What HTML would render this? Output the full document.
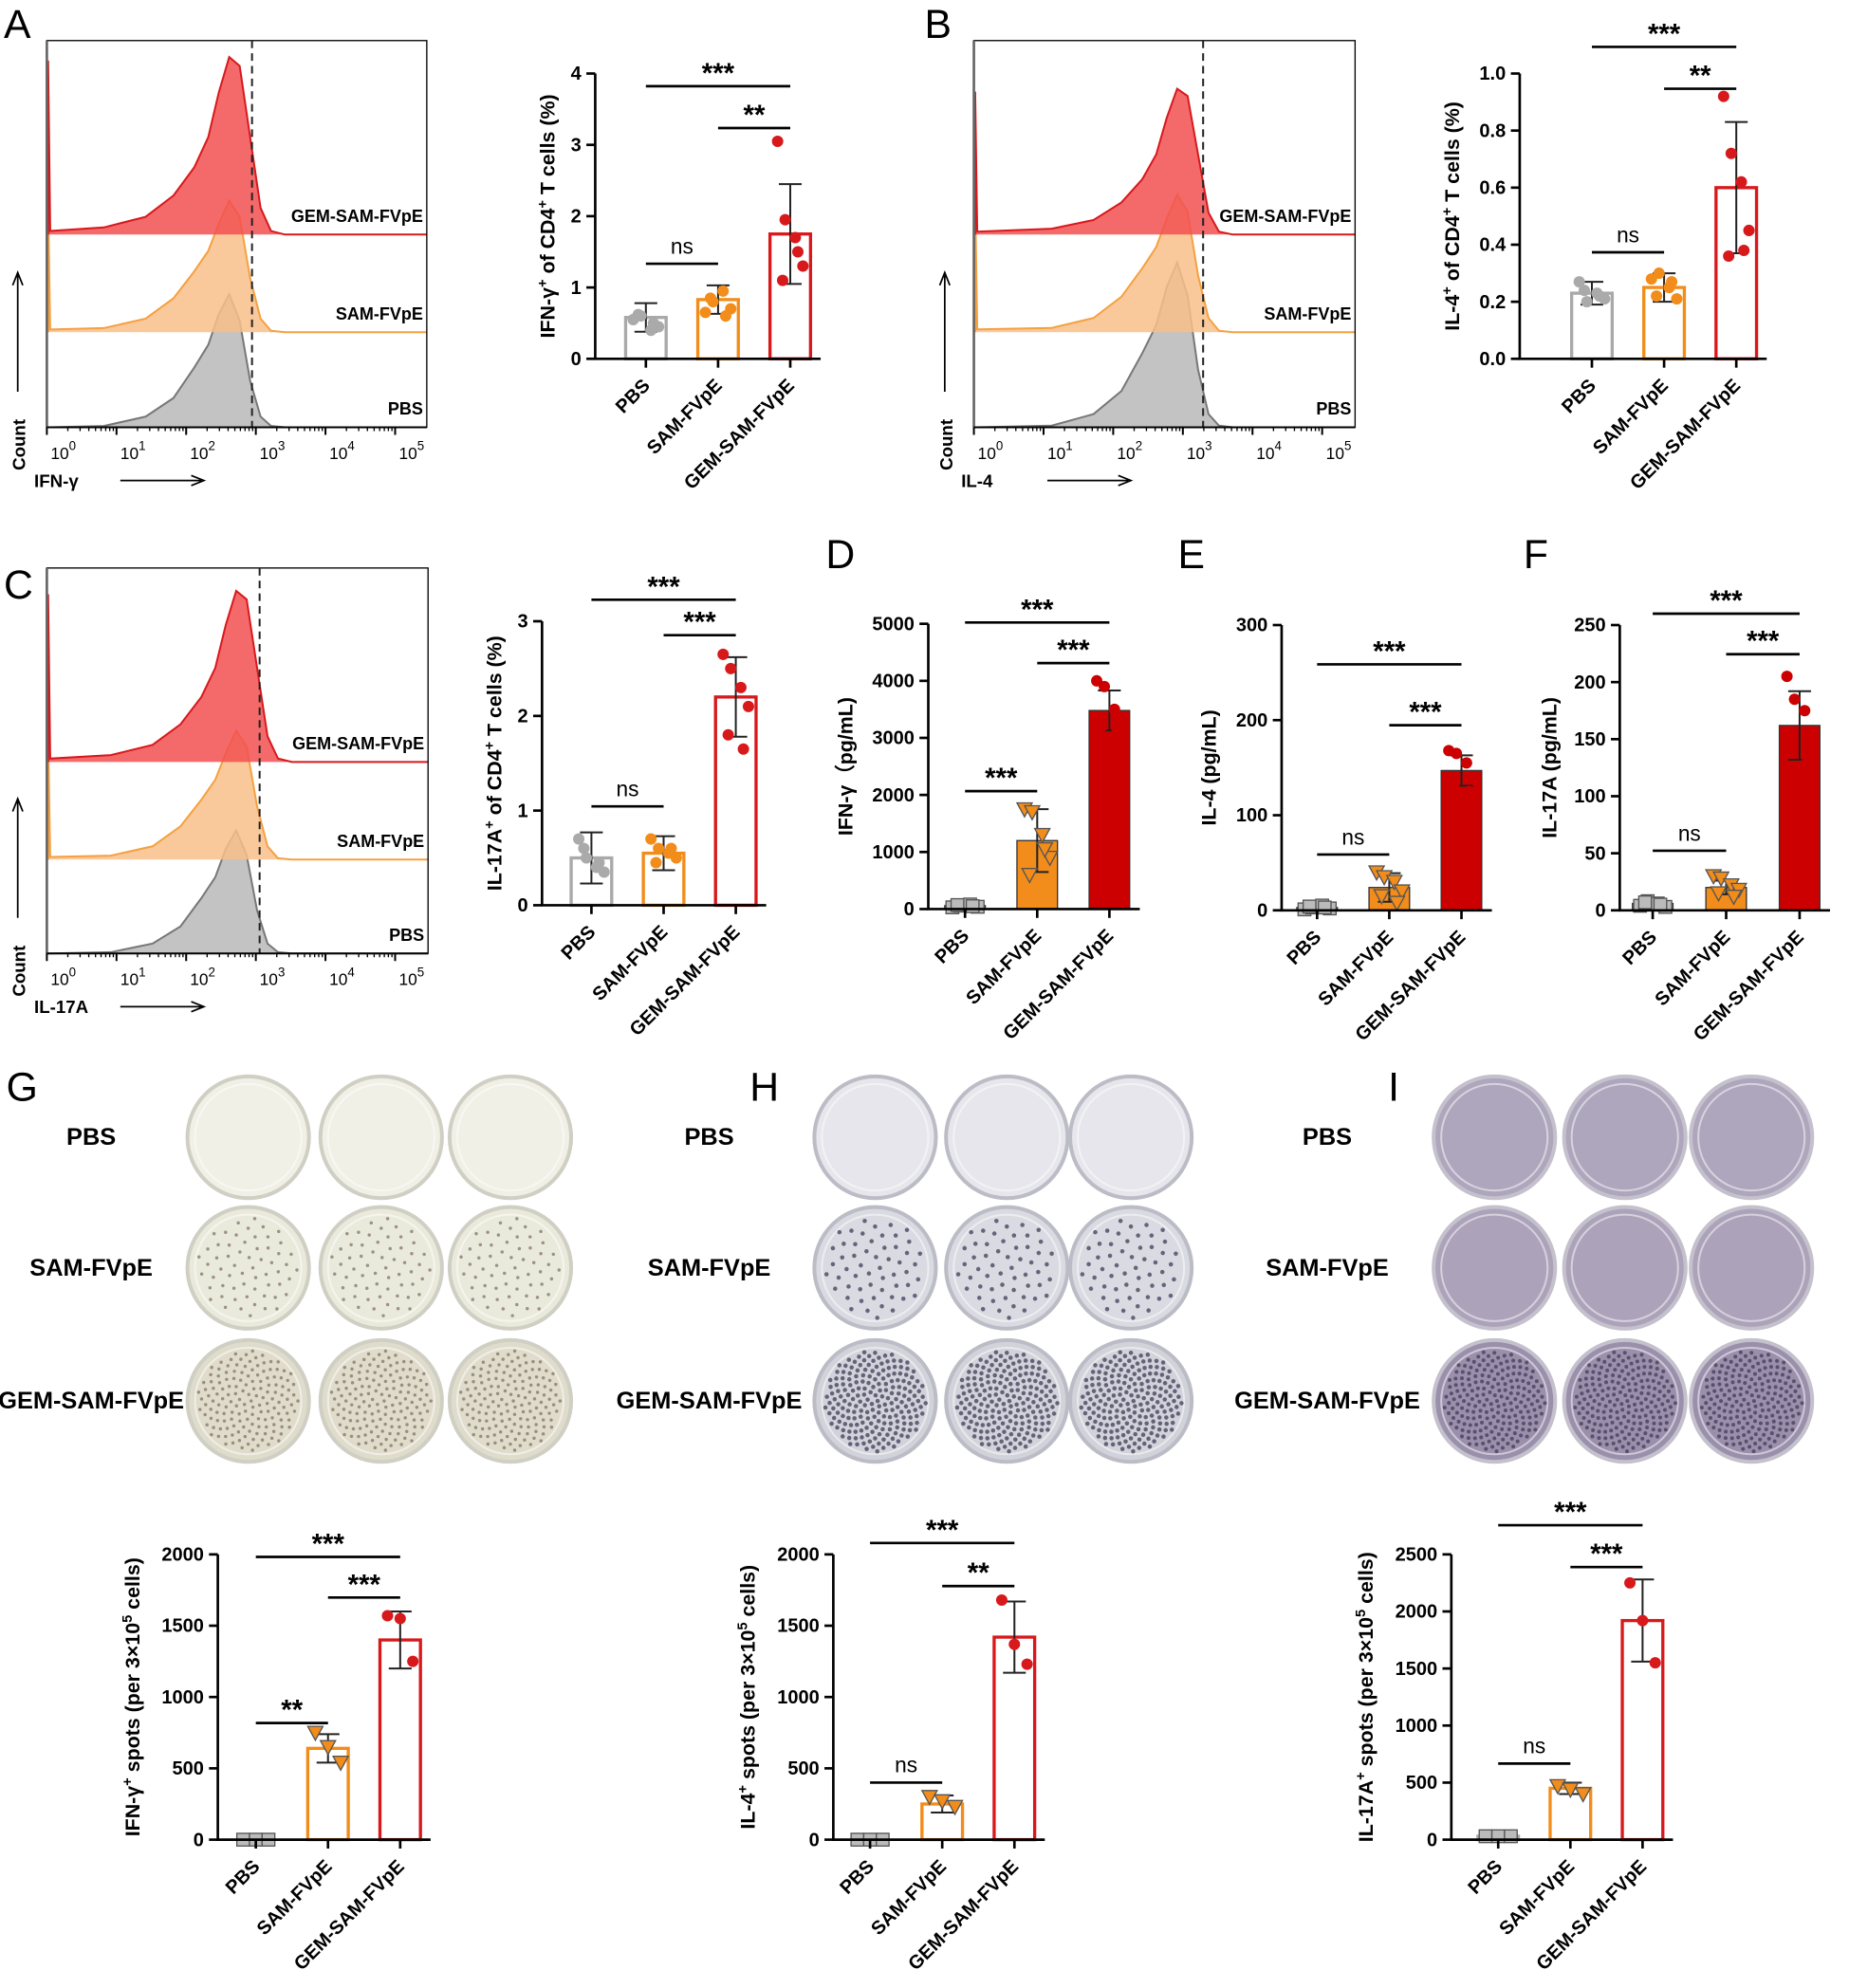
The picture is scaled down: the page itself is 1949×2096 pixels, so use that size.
<!DOCTYPE html>
<html><head><meta charset="utf-8"><style>
html,body{margin:0;padding:0;background:#fff}
svg{display:block}
text{font-family:"Liberation Sans",Arial,sans-serif;fill:#000}
</style></head><body>
<svg id="fig" xmlns="http://www.w3.org/2000/svg" width="1949" height="2096" viewBox="0 0 1460 1568" preserveAspectRatio="none"></svg>
<script>
// ---------- DATA ----------
const groups = ["PBS","SAM-FVpE","GEM-SAM-FVpE"];
const aMeans=[0.58,0.83,1.75], aSd=[0.2,0.2,0.7];
const aPts=[[0.55,0.6,0.4,0.45,0.62,0.5],[0.65,0.8,0.95,0.7,0.85,0.6],[3.05,1.95,1.7,1.3,1.1,1.5]];
const bMeans=[0.23,0.25,0.6], bSd=[0.04,0.05,0.23];
const bPts=[[0.27,0.2,0.23,0.21,0.24,0.22],[0.28,0.3,0.25,0.21,0.22,0.27],[0.92,0.72,0.62,0.45,0.36,0.38]];
const cMeans=[0.5,0.55,2.2], cSd=[0.27,0.18,0.42];
const cPts=[[0.7,0.5,0.4,0.35,0.6,0.45],[0.7,0.6,0.55,0.5,0.45,0.6],[2.65,2.5,2.3,2.1,1.8,1.65]];
const dMeans=[60,1200,3480], dSd=[40,550,350];
const dPts=[[30,60,80,40,70,50],[1750,1700,1300,900,600,1050],[4000,3900,3500,3300,3200,3100]];
const eMeans=[3,24,147], eSd=[2,15,16];
const ePts=[[1,3,5,2,4,3],[40,35,30,20,15,8],[168,165,155,140,130,125]];
const fMeans=[6,20,162], fSd=[4,6,30];
const fPts=[[4,8,6,3,7,5],[30,28,22,18,15,12],[205,185,175,155,140,130]];
const gMeans=[0,640,1400], gSd=[0,100,200];
const gPts=[[0,0,0],[750,650,540],[1570,1550,1250]];
const hMeans=[0,250,1420], hSd=[0,60,250];
const hPts=[[0,0,0],[300,270,230],[1680,1370,1230]];
const iMeans=[30,450,1920], iSd=[10,50,360];
const iPts=[[30,30,30],[470,440,400],[2250,1920,1550]];
const aTicks=[0,1,2,3,4], aTickLabels=["0","1","2","3","4"];
const bTicks=[0,0.2,0.4,0.6,0.8,1.0], bTickLabels=["0.0","0.2","0.4","0.6","0.8","1.0"];
const cTicks=[0,1,2,3], cTickLabels=["0","1","2","3"];
const dTicks=[0,1000,2000,3000,4000,5000], dTickLabels=["0","1000","2000","3000","4000","5000"];
const eTicks=[0,100,200,300], eTickLabels=["0","100","200","300"];
const fTicks=[0,50,100,150,200,250], fTickLabels=["0","50","100","150","200","250"];
const gTicks=[0,500,1000,1500,2000], gTickLabels=["0","500","1000","1500","2000"];
const iTicks=[0,500,1000,1500,2000,2500], iTickLabels=["0","500","1000","1500","2000","2500"];
// histogram shapes (decade, relative height)
const histDec=[0,0,0.03,0.6,1.2,1.6,1.9,2.1,2.25,2.4,2.55,2.7,2.85,3.0,3.2];
const redH=[0,0.98,0.02,0.04,0.1,0.22,0.38,0.55,0.8,1.0,0.95,0.55,0.15,0.02,0];
const orgH=[0,0.95,0.02,0.03,0.1,0.25,0.45,0.6,0.8,0.97,0.85,0.4,0.1,0.01,0];
const gryH=[0,0,0,0.01,0.08,0.22,0.45,0.62,0.85,1.0,0.8,0.35,0.08,0.01,0];
const decLabels=["0","1","2","3","4","5"];

// ---------- helpers ----------
const svg=document.getElementById('fig');const NS="http://www.w3.org/2000/svg";
function el(tag,attrs,parent){const e=document.createElementNS(NS,tag);for(const k in attrs)e.setAttribute(k,attrs[k]);(parent||svg).appendChild(e);return e;}
function txt(x,y,s,size,opts,parent){const t=el('text',Object.assign({x:x,y:y,'font-size':size,'font-weight':'bold'},opts||{}),parent);t.textContent=s;return t;}
const GRAY="#a9a9a9",ORG="#f28c1a",RED="#d7191c";
const cols=[GRAY,ORG,RED];

function letter(x,y,s){const t=txt(x,y,s,32,{'font-weight':'normal'});}

function marker(g,type,x,y,color){let m;
 if(type==='c')m=el('circle',{cx:x,cy:y,r:4.5,fill:color},g);
 else if(type==='s')m=el('rect',{x:x-5,y:y-5,width:10,height:10,fill:'#bbb',stroke:'#555','stroke-width':1},g);
 else m=el('path',{d:`M${x-6},${y-5}L${x+6},${y-5}L${x},${y+6}Z`,fill:color,stroke:'#555','stroke-width':1},g);
 }

function barChart(c){
 const g=el('g',{});
 const Y=v=>c.y0-(v/c.max)*(c.y0-c.y1);
 const xs=[c.ax+c.gap,c.ax+c.gap+c.step,c.ax+c.gap+2*c.step];
 const w=32;
 const jit=[-10,-4,4,10,-6,6];
 for(let i=0;i<3;i++){
  const col=cols[i];const filled=c.filled;
  const b=el('rect',{x:xs[i]-w/2,y:Y(c.means[i]),width:w,height:c.y0-Y(c.means[i]),fill:filled?(i==0?'#bbb':(i==1?ORG:'#cc0000')):'#fff',stroke:filled?'#333':col,'stroke-width':filled?1:2.5},g);
  
  if(c.sd[i]>0){const t=Y(c.means[i]+c.sd[i]),bt=Y(Math.max(0,c.means[i]-c.sd[i]));
   const eb=el('path',{d:`M${xs[i]},${t}L${xs[i]},${bt}M${xs[i]-9},${t}L${xs[i]+9},${t}M${xs[i]-9},${bt}L${xs[i]+9},${bt}`,stroke:'#222','stroke-width':1.5,fill:'none'},g);
   }
  const pts=c.pts[i];
  pts.forEach((v,k)=>{const type=c.mk?c.mk[i]:'c';const mc=type==='c'?(i==0?'#aaa':i==1?ORG:RED):(type==='t'?ORG:'#bbb');
   marker(g,type,xs[i]+(pts.length===3?[-10,0,10][k]:jit[k]),Y(v),i==2&&type==='c'&&c.filled?'#cc0000':mc);});
 }
 const ax=el('path',{d:`M${c.ax},${c.y1}L${c.ax},${c.y0}L${xs[2]+w/2+8},${c.y0}`,stroke:'#000','stroke-width':2,fill:'none'},g);
 
 c.ticks.forEach((t,k)=>{el('line',{x1:c.ax-7,x2:c.ax,y1:Y(t),y2:Y(t),stroke:'#000','stroke-width':2},g);
  const tl=txt(c.ax-11,Y(t)+5,c.tickLabels[k],15,{'text-anchor':'end'},g);});
 xs.forEach((x,i)=>{el('line',{x1:x,x2:x,y1:c.y0,y2:c.y0+7,stroke:'#000','stroke-width':2},g);
  const tl=txt(x+4,c.y0+22,groups[i],15,{'text-anchor':'end',transform:`rotate(-45 ${x+4} ${c.y0+22})`},g);});
 const yl=el('text',{x:0,y:0,'font-size':16,'font-weight':'bold','text-anchor':'middle',transform:`translate(${c.ax-c.ylOff},${(c.y0+c.y1)/2}) rotate(-90)`},g);
 yl.innerHTML=c.ylabel;
 c.sig.forEach(s=>{el('line',{x1:xs[s[0]],x2:xs[s[1]],y1:s[2],y2:s[2],stroke:'#000','stroke-width':2},g);
  const st=txt((xs[s[0]]+xs[s[1]])/2,s[2]-(s[3]==='ns'?8:3),s[3],s[3]==='ns'?17:22,{'text-anchor':'middle','font-weight':s[3]==='ns'?'normal':'bold'},g);
  });
}

function flow(c){
 const g=el('g',{});
 const bot=c.by+c.bh;
 const rows=[[redH,RED,'#f25050',c.base[0],c.amp[0],'GEM-SAM-FVpE'],[orgH,'#f5a040','#f8c08a',c.base[1],c.amp[1],'SAM-FVpE'],[gryH,'#777','#b8b8b8',c.base[2],c.amp[2],'PBS']];
 for(let r=2;r>=0;r--){const [H,sc,fc,base,amp,lab]=rows[r];
  let d=`M${c.bx+1},${base}`;histDec.forEach((dd,k)=>{d+=`L${c.bx+1+(dd+(k>2?c.shift:0))*c.dw},${base-H[k]*amp}`;});d+=`L${c.bx+c.bw},${base}`;
  const p=el('path',{d:d,fill:fc,'fill-opacity':0.85,stroke:sc,'stroke-width':1.5},g);
  
  const l=txt(c.bx+c.bw-3,base-10,lab,13.5,{'text-anchor':'end'},g);}
 const bx=el('rect',{x:c.bx,y:c.by,width:c.bw,height:c.bh,fill:'none',stroke:'#000','stroke-width':1},g);
 
 el('line',{x1:c.bx,x2:c.bx,y1:c.by,y2:bot,stroke:'#666','stroke-width':2},g);
 const dl=el('line',{x1:c.dash,x2:c.dash,y1:c.by,y2:bot,stroke:'#222','stroke-width':1.5,'stroke-dasharray':'6,4'},g);
 
 el('line',{x1:c.bx,x2:c.bx+c.bw,y1:bot,y2:bot,stroke:'#000','stroke-width':1.5},g);
 for(let i=0;i<=5;i++){const x=c.bx+i*c.dw;
  el('line',{x1:x,x2:x,y1:bot,y2:bot+6,stroke:'#000','stroke-width':1.5},g);
  if(i<5)for(let m=2;m<10;m++){const xm=x+Math.log10(m)*c.dw;el('line',{x1:xm,x2:xm,y1:bot,y2:bot+3,stroke:'#000'},g);}
  const t=el('text',{x:x+3,y:bot+25,'font-size':13},g);t.innerHTML=`10<tspan dy="-7" font-size="10">${decLabels[i]}</tspan>`;
  }
 const xl=txt(c.bx-10,bot+47,c.xlabel,14,{},g);
 const ay=bot+42;
 el('path',{d:`M${c.bx+58},${ay}L${c.bx+122},${ay}M${c.bx+114},${ay-4}L${c.bx+124},${ay}L${c.bx+114},${ay+4}`,stroke:'#000','stroke-width':1.3,fill:'none'},g);
 const yl=txt(0,0,'Count',14,{transform:`translate(${c.bx-17},${bot+34}) rotate(-90)`},g);
 el('path',{d:`M${c.bx-23},${bot-28}L${c.bx-23},${bot-120}M${c.bx-27},${bot-112}L${c.bx-23},${bot-122}L${c.bx-19},${bot-112}`,stroke:'#000','stroke-width':1.3,fill:'none'},g);
}

function wells(c){
 const g=el('g',{});
 const ys=[897,1000,1105];
 groups.forEach((lab,r)=>{const t=txt(c.labX,ys[r]+6,lab,19,{'text-anchor':'middle'},g);
  c.xs.forEach(x=>{const w=el('circle',{cx:x,cy:ys[r],r:48,fill:c.fills[r],stroke:c.rim,'stroke-width':3},g);
   
   el('circle',{cx:x,cy:ys[r],r:42,fill:'none',stroke:'rgba(255,255,255,0.5)','stroke-width':1.5},g);
   if(r>0){const n=r===1?c.spots1:c.spots2;for(let k=0;k<n;k++){const a=(k*137.5)*Math.PI/180,rr=40*Math.sqrt((k+0.5)/n);
    el('circle',{cx:x+rr*Math.cos(a),cy:ys[r]+rr*Math.sin(a),r:c.sr||1.5,fill:c.spot,'fill-opacity':0.8},g);}}
  });});
}

// ---------- draw ----------
letter(3,30,'A');letter(730,30,'B');letter(3,472,'C');letter(652,448,'D');letter(930,448,'E');letter(1203,448,'F');
letter(5,868,'G');letter(592,868,'H');letter(1096,868,'I');

flow({name:'flow-a-ifng',bx:37,by:32,bw:300,bh:305,dw:55,shift:0.2,base:[185,262,337],amp:[140,107,105],dash:199,xlabel:'IFN-γ'});
flow({name:'flow-b-il4',bx:769,by:32,bw:301,bh:305,dw:55,shift:0.5,base:[185,262,337],amp:[115,112,130],dash:950,xlabel:'IL-4'});
flow({name:'flow-c-il17a',bx:37,by:448,bw:301,bh:304,dw:55,shift:0.3,base:[601,678,752],amp:[135,105,97],dash:205,xlabel:'IL-17A'});

barChart({name:'bar-a',ax:470,gap:40,step:57,y0:283,y1:58,max:4,ticks:aTicks,tickLabels:aTickLabels,means:aMeans,sd:aSd,pts:aPts,ylOff:32,
 ylabel:'IFN-γ<tspan dy="-6" font-size="11">+</tspan><tspan dy="6"> of CD4</tspan><tspan dy="-6" font-size="11">+</tspan><tspan dy="6"> T cells (%)</tspan>',sig:[[0,2,68,'***'],[1,2,101,'**'],[0,1,208,'ns']]});
barChart({name:'bar-b',ax:1200,gap:57,step:57,y0:283,y1:58,max:1,ticks:bTicks,tickLabels:bTickLabels,means:bMeans,sd:bSd,pts:bPts,ylOff:48,
 ylabel:'IL-4<tspan dy="-6" font-size="11">+</tspan><tspan dy="6"> of CD4</tspan><tspan dy="-6" font-size="11">+</tspan><tspan dy="6"> T cells (%)</tspan>',sig:[[0,2,37,'***'],[1,2,70,'**'],[0,1,199,'ns']]});
barChart({name:'bar-c',ax:428,gap:39,step:57,y0:714,y1:490,max:3,ticks:cTicks,tickLabels:cTickLabels,means:cMeans,sd:cSd,pts:cPts,ylOff:32,
 ylabel:'IL-17A<tspan dy="-6" font-size="11">+</tspan><tspan dy="6"> of CD4</tspan><tspan dy="-6" font-size="11">+</tspan><tspan dy="6"> T cells (%)</tspan>',sig:[[0,2,473,'***'],[1,2,501,'***'],[0,1,636,'ns']]});
barChart({name:'bar-d-ifng',ax:733,gap:29,step:57,y0:717,y1:492,max:5000,ticks:dTicks,tickLabels:dTickLabels,means:dMeans,sd:dSd,pts:dPts,mk:['s','t','c'],filled:true,ylOff:60,
 ylabel:'IFN-γ（pg/mL)',sig:[[0,2,491,'***'],[1,2,523,'***'],[0,1,624,'***']]});
barChart({name:'bar-e-il4',ax:1012,gap:28,step:57,y0:718,y1:493,max:300,ticks:eTicks,tickLabels:eTickLabels,means:eMeans,sd:eSd,pts:ePts,mk:['s','t','c'],filled:true,ylOff:52,
 ylabel:'IL-4 (pg/mL)',sig:[[0,2,524,'***'],[1,2,572,'***'],[0,1,674,'ns']]});
barChart({name:'bar-f-il17a',ax:1279,gap:26,step:58,y0:718,y1:493,max:250,ticks:fTicks,tickLabels:fTickLabels,means:fMeans,sd:fSd,pts:fPts,mk:['s','t','c'],filled:true,ylOff:50,
 ylabel:'IL-17A (pg/mL)',sig:[[0,2,484,'***'],[1,2,516,'***'],[0,1,671,'ns']]});

wells({name:'elispot-g',labX:72,xs:[196,301,403],fills:['#f0f0e6','#eaeadc','#e0dccc'],rim:'#cfcfc4',spot:'#8a7a6a',spots1:60,spots2:150,sr:1.3});
wells({name:'elispot-h',labX:560,xs:[691,795,893],fills:['#e6e6ec','#dadae2','#d2d2da'],rim:'#bcbcc6',spot:'#4a4560',spots1:55,spots2:200,sr:1.7});
wells({name:'elispot-i',labX:1048,xs:[1180,1283,1383],fills:['#aea6bc','#aca3ba','#9a90ac'],rim:'#c4c0cc',spot:'#4a3f5e',spots1:0,spots2:200});

const spotLab=c=>c+'<tspan dy="-6" font-size="11">+</tspan><tspan dy="6"> spots (per 3×10</tspan><tspan dy="-6" font-size="11">5</tspan><tspan dy="6"> cells)</tspan>';
barChart({name:'bar-g-spots',ax:172,gap:30,step:57,y0:1451,y1:1226,max:2000,ticks:gTicks,tickLabels:gTickLabels,means:gMeans,sd:gSd,pts:gPts,mk:['s','t','c'],ylOff:62,
 ylabel:spotLab('IFN-γ'),sig:[[0,2,1228,'***'],[1,2,1260,'***'],[0,1,1359,'**']]});
barChart({name:'bar-h-spots',ax:658,gap:29,step:57,y0:1451,y1:1226,max:2000,ticks:gTicks,tickLabels:gTickLabels,means:hMeans,sd:hSd,pts:hPts,mk:['s','t','c'],ylOff:62,
 ylabel:spotLab('IL-4'),sig:[[0,2,1217,'***'],[1,2,1251,'**'],[0,1,1406,'ns']]});
barChart({name:'bar-i-spots',ax:1146,gap:37,step:57,y0:1451,y1:1226,max:2500,ticks:iTicks,tickLabels:iTickLabels,means:iMeans,sd:iSd,pts:iPts,mk:['s','t','c'],ylOff:62,
 ylabel:spotLab('IL-17A'),sig:[[0,2,1203,'***'],[1,2,1236,'***'],[0,1,1391,'ns']]});
</script>
</body></html>
